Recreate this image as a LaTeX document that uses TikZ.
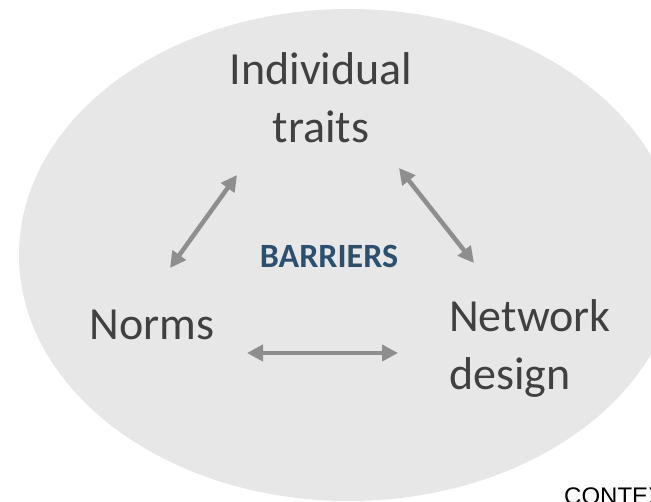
\documentclass[tikz,border=0pt]{standalone}
\usepackage{tikz}
\usepackage{xcolor}
\usepackage{fontspec}
\setmainfont{Carlito}
\newfontfamily\contextfont{Liberation Sans}
\usetikzlibrary{arrows.meta}
\usetikzlibrary{positioning}
\definecolor{bgGray}{HTML}{E7E7E7}
\definecolor{txtGray}{HTML}{404040}
\definecolor{arrowGray}{HTML}{8E8E8E}
\definecolor{barrierBlue}{HTML}{2C4F6E}
\tikzstyle{factor} = [inner sep=0pt, text=txtGray, font=\fontsize{46pt}{58pt}\selectfont]
\tikzstyle{centre} = [inner sep=0pt, text=barrierBlue, font=\fontsize{34pt}{40pt}\selectfont\bfseries]
\tikzstyle{twoway} = [line width=4.5pt, draw=arrowGray, {Triangle[length=16pt,width=16pt]}-{Triangle[length=16pt,width=16pt]}]

\begin{document}
\begin{tikzpicture}[x=1pt, y=-1pt, node distance=1cm]
    \useasboundingbox (0,0) rectangle (651,502);
    \fill [bgGray] (349,255) ellipse [x radius=330, y radius=246];

    \node (barriers) [centre] at (329,256) {BARRIERS};
    \node (traits) [factor, above of=barriers, align=center, xshift=-8pt, yshift=129.5pt] {Individual\\ traits};
    \node (norms) [factor, left of=barriers, xshift=-148.5pt, yshift=-69pt] {Norms};
    \node (network) [factor, right of=barriers, align=left, xshift=172.5pt, yshift=-92pt] {Network\\ design};
    \node (context) [anchor=north west, inner sep=0pt, font=\contextfont\fontsize{24pt}{29pt}\selectfont] at (564,488) {CONTEXT};

    \coordinate (traitsLeft) at (237,175);
    \coordinate (normsTop) at (170,268);
    \coordinate (traitsRight) at (399,168);
    \coordinate (networkTop) at (474,263);
    \coordinate (normsRight) at (247,353);
    \coordinate (networkLeft) at (398,353);

    \draw [twoway] (normsTop) -- (traitsLeft);
    \draw [twoway] (traitsRight) -- (networkTop);
    \draw [twoway] (normsRight) -- (networkLeft);

\end{tikzpicture}
\end{document}
